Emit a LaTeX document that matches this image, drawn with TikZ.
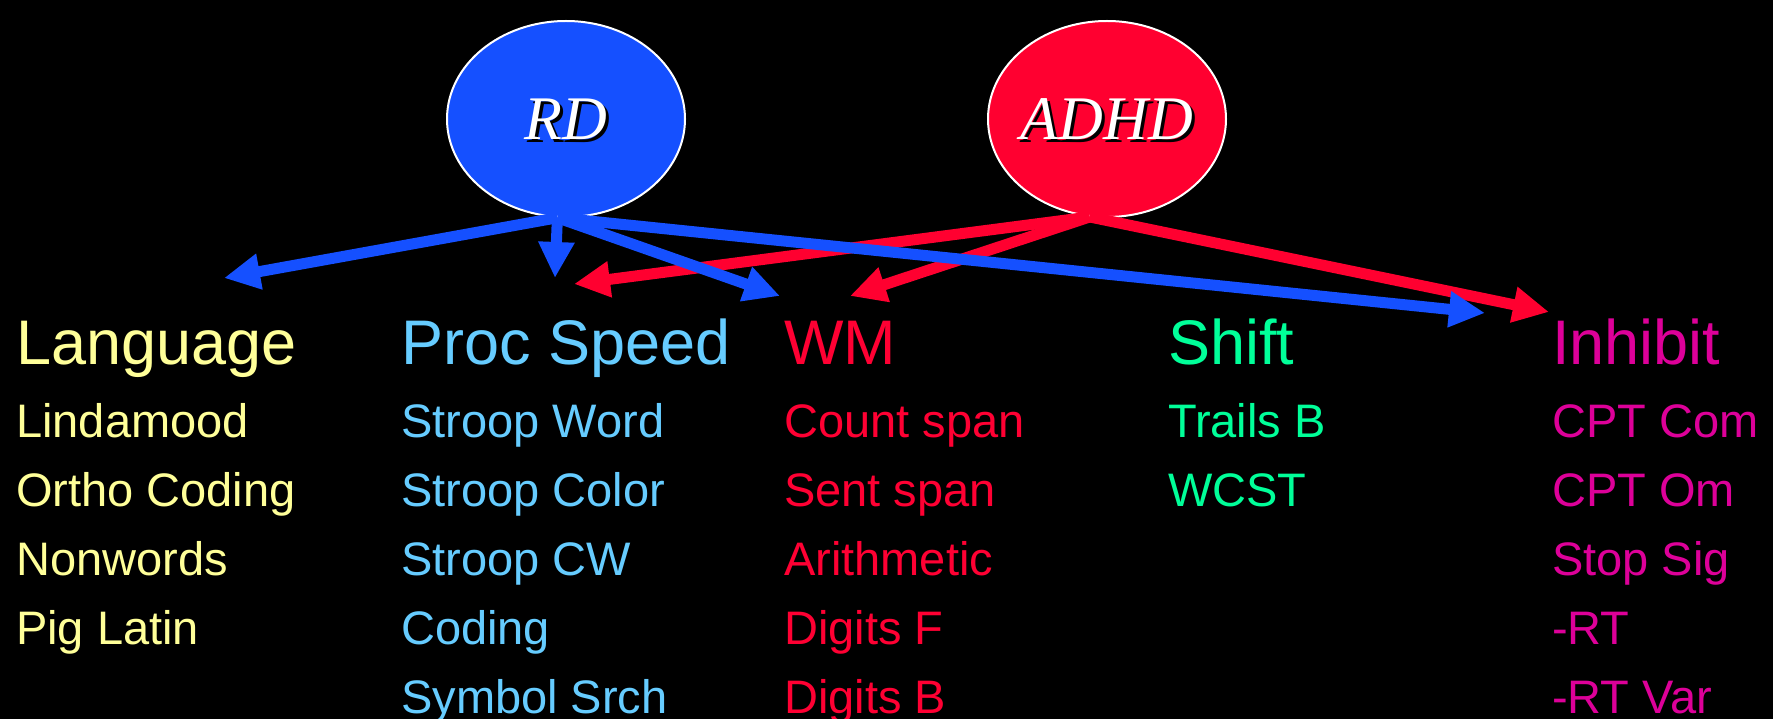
\documentclass[tikz,border=0pt]{standalone}
\usepackage{fontspec}
\setmainfont{Liberation Sans}
\newfontfamily\serfont{Liberation Serif}
\usetikzlibrary{arrows.meta,shapes.geometric}
\definecolor{rdblue}{RGB}{21,80,255}
\definecolor{adred}{RGB}{255,0,48}
\definecolor{langc}{RGB}{255,255,153}
\definecolor{procc}{RGB}{102,204,255}
\definecolor{wmc}{RGB}{255,0,51}
\definecolor{shiftc}{RGB}{0,255,153}
\definecolor{inhc}{RGB}{221,0,153}
\tikzset{
  blob/.style={ellipse,draw=white,line width=2pt,minimum width=238pt,minimum height=196pt,inner sep=0pt},
  blobtext/.style={font=\serfont\itshape\fontsize{62pt}{62pt}\selectfont,inner sep=0pt},
  head/.style={anchor=base west,inner sep=0pt,font=\fontsize{63pt}{63pt}\selectfont},
  item/.style={anchor=base west,inner sep=0pt,font=\fontsize{47pt}{47pt}\selectfont},
  conn/.style={line width=11pt,-{Triangle[length=36pt,width=34pt]}},
}
\begin{document}
\begin{tikzpicture}[x=1pt,y=-1pt]
\fill[black] (0,0) rectangle (1773,719);
\useasboundingbox (0,0) rectangle (1773,719);
% ellipses
\node[blob,fill=rdblue] (RD) at (566,119) {};
\node[blob,fill=adred] (ADHD) at (1107,119) {};
\node[blobtext,text=black] at (569,122) {RD};
\node[blobtext,text=white] (rdt) at (566,119) {RD};
\node[blobtext,text=black] at (1110,122) {ADHD};
\node[blobtext,text=white] (adt) at (1107,119) {ADHD};
% headers
\node[head,text=langc] (lang) at (16,364) {Language};
\node[head,text=procc] (proc) at (401,364) {Proc Speed};
\node[head,text=wmc] (wm) at (784,364) {WM};
\node[head,text=shiftc] (shift) at (1168,364) {Shift};
\node[head,text=inhc] (inh) at (1552,364) {Inhibit};
% items
\node[item,text=langc] (l1) at (16,437) {Lindamood};
\node[item,text=langc] (l2) at (16,506) {Ortho Coding};
\node[item,text=langc] (l3) at (16,575) {Nonwords};
\node[item,text=langc] (l4) at (16,644) {Pig Latin};
\node[item,text=procc] (p1) at (401,437) {Stroop Word};
\node[item,text=procc] (p2) at (401,506) {Stroop Color};
\node[item,text=procc] (p3) at (401,575) {Stroop CW};
\node[item,text=procc] (p4) at (401,644) {Coding};
\node[item,text=procc] (p5) at (401,713) {Symbol Srch};
\node[item,text=wmc] (w1) at (784,437) {Count span};
\node[item,text=wmc] (w2) at (784,506) {Sent span};
\node[item,text=wmc] (w3) at (784,575) {Arithmetic};
\node[item,text=wmc] (w4) at (784,644) {Digits F};
\node[item,text=wmc] (w5) at (784,713) {Digits B};
\node[item,text=shiftc] (s1) at (1168,437) {Trails B};
\node[item,text=shiftc] (s2) at (1168,506) {WCST};
\node[item,text=inhc] (i1) at (1552,437) {CPT Com};
\node[item,text=inhc] (i2) at (1552,506) {CPT Om};
\node[item,text=inhc] (i3) at (1552,575) {Stop Sig};
\node[item,text=inhc] (i4) at (1552,644) {-RT};
\node[item,text=inhc] (i5) at (1552,713) {-RT Var};
% arrow targets
\coordinate (tLang) at (224,278);
\coordinate (tProcB) at (555,278);
\coordinate (tWMB) at (780,296);
\coordinate (tInhB) at (1485,313);
\coordinate (tProcR) at (574,284);
\coordinate (tWMR) at (850,296);
\coordinate (tInhR) at (1549,312);
% red arrows
\draw[conn,adred] (ADHD.260) -- (tProcR);
\draw[conn,adred] (ADHD.260) -- (tWMR);
\draw[conn,adred] (ADHD.260) -- (tInhR);
% blue arrows
\draw[conn,rdblue] (RD.265) -- (tLang);
\draw[conn,rdblue] (RD.265) -- (tProcB);
\draw[conn,rdblue] (RD.265) -- (tWMB);
\draw[conn,rdblue] (RD.265) -- (tInhB);
\end{tikzpicture}
\end{document}
